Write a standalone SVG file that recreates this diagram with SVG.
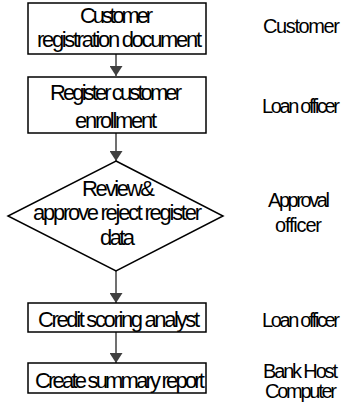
<svg xmlns="http://www.w3.org/2000/svg" width="344" height="405" viewBox="0 0 344 405">
<style>
.box{fill:#fff;stroke:#000;stroke-width:1.5}
.t{font-family:"Liberation Sans",Arial,sans-serif;font-size:22px;fill:#000}
.r{font-family:"Liberation Sans",Arial,sans-serif;font-size:20px;fill:#000}
.c{stroke:#404040;stroke-width:1.5;fill:none}
</style>
<defs>
<marker id="ah" viewBox="0 0 10 13" refX="10" refY="6.5" markerWidth="10" markerHeight="13" markerUnits="userSpaceOnUse" orient="auto">
<path d="M0,0 L10,6.5 L0,13 Z" fill="#404040"/>
</marker>
</defs>
<rect width="344" height="405" fill="#fff"/>
<g id="connectors">
<line class="c" x1="116" y1="54" x2="116" y2="76" marker-end="url(#ah)"/>
<line class="c" x1="116" y1="133" x2="116" y2="161" marker-end="url(#ah)"/>
<line class="c" x1="116" y1="271" x2="116" y2="303" marker-end="url(#ah)"/>
<line class="c" x1="116" y1="332" x2="116" y2="363" marker-end="url(#ah)"/>
</g>
<g id="n1">
<rect class="box" x="28" y="3" width="178" height="51"/>
<text class="t" x="80" y="23" textLength="73" lengthAdjust="spacing">Customer</text>
<text class="t" x="37" y="47" textLength="165" lengthAdjust="spacing">registration document</text>
</g>
<g id="n2">
<rect class="box" x="28" y="77" width="178" height="56"/>
<text class="t" x="50" y="100" textLength="132" lengthAdjust="spacing">Register customer</text>
<text class="t" x="75" y="128" textLength="82" lengthAdjust="spacing">enrollment</text>
</g>
<g id="n3">
<polygon class="box" points="116,161 223,216 116,271 8,216"/>
<text class="t" x="82" y="196" textLength="73" lengthAdjust="spacing">Review&amp;</text>
<text class="t" x="33" y="220" textLength="169" lengthAdjust="spacing">approve reject register</text>
<text class="t" x="100" y="245" textLength="35" lengthAdjust="spacing">data</text>
</g>
<g id="n4">
<rect class="box" x="28" y="303" width="178" height="29"/>
<text class="t" x="38" y="326.5" textLength="162" lengthAdjust="spacing">Credit scoring analyst</text>
</g>
<g id="n5">
<rect class="box" x="28" y="363" width="178" height="30"/>
<text class="t" x="35" y="388" textLength="170" lengthAdjust="spacing">Create summary report</text>
</g>
<g id="roles">
<text class="r" x="263" y="33" textLength="77" lengthAdjust="spacing">Customer</text>
<text class="r" x="262" y="113" textLength="78" lengthAdjust="spacing">Loan officer</text>
<text class="r" x="268" y="207" textLength="62" lengthAdjust="spacing">Approval</text>
<text class="r" x="275" y="232" textLength="47" lengthAdjust="spacing">officer</text>
<text class="r" x="262" y="327" textLength="78" lengthAdjust="spacing">Loan officer</text>
<text class="r" x="263" y="378" textLength="75" lengthAdjust="spacing">Bank Host</text>
<text class="r" x="265" y="398" textLength="72" lengthAdjust="spacing">Computer</text>
</g>
</svg>
